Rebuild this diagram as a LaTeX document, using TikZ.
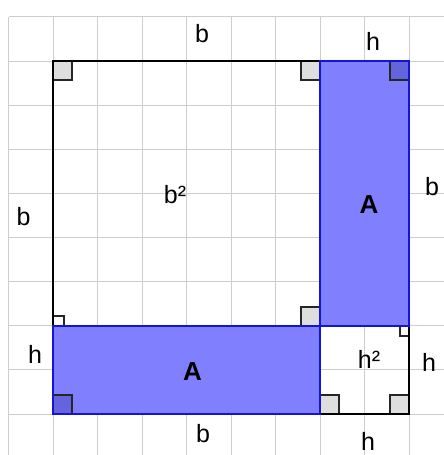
\documentclass[tikz,border=0pt]{standalone}
\usepackage{fontspec}
\setmainfont{Liberation Sans}
\definecolor{gridc}{RGB}{205,205,205}
\definecolor{fillb}{RGB}{128,128,255}
\definecolor{edgeb}{RGB}{20,20,215}
\definecolor{markg}{RGB}{222,222,222}
\definecolor{markb}{RGB}{100,100,220}
\begin{document}
\begin{tikzpicture}[x=1pt,y=-1pt,
  lbl/.style={font=\fontsize{25}{25}\selectfont, inner sep=0pt},
  albl/.style={font=\fontsize{26}{26}\selectfont\bfseries, inner sep=0pt},
  gridline/.style={draw=gridc, line width=0.9pt},
  blackedge/.style={draw=black, line width=2pt},
  blueedge/.style={draw=edgeb, line width=2pt},
  markline/.style={draw=black!85, line width=1.3pt}]
\useasboundingbox (0,0) rectangle (444,455);
\fill[white] (0,0) rectangle (444,455);
% grid
\foreach \i in {0,...,9} \draw[gridline] ({8.5+44.5*\i},16.9) -- ({8.5+44.5*\i},455);
\foreach \j in {0,...,9} \draw[gridline] (8.5,{16.9+44.125*\j}) -- (444,{16.9+44.125*\j});
% corners
\coordinate (TL) at (53,61);
\coordinate (TR) at (320,61);
\coordinate (TRR) at (409,61);
\coordinate (BL) at (53,326);
\coordinate (BR) at (320,326);
\coordinate (BRR) at (409,326);
\coordinate (BBL) at (53,414);
\coordinate (BBR) at (320,414);
\coordinate (BBRR) at (409,414);
% blue fills
\fill[fillb] (TR) rectangle (BRR);
\fill[fillb] (BL) rectangle (BBR);
% right-angle markers
\fill[markg] (53,61) rectangle (72,80);
\draw[markline] (72,61) -- (72,80) -- (53,80);
\fill[markg] (301,61) rectangle (320,80);
\draw[markline] (301,61) -- (301,80) -- (320,80);
\fill[markb] (390,61) rectangle (409,80);
\draw[markline] (390,61) -- (390,80) -- (409,80);
\fill[white] (53,316) rectangle (64,326);
\draw[markline] (53,316) -- (64,316) -- (64,326);
\fill[markg] (301,307) rectangle (320,326);
\draw[markline] (301,326) -- (301,307) -- (320,307);
\fill[markb] (53,395) rectangle (72,414);
\draw[markline] (53,395) -- (72,395) -- (72,414);
\fill[markg] (320,395) rectangle (339,414);
\draw[markline] (320,395) -- (339,395) -- (339,414);
\fill[markg] (390,395) rectangle (409,414);
\draw[markline] (409,395) -- (390,395) -- (390,414);
\fill[white] (400,327) rectangle (409,336);
\draw[markline] (400,327) -- (400,336) -- (409,336);
% edges
\draw[blackedge] (BL) -- (TL) -- (TR);
\draw[blackedge] (BRR) -- (BBRR) -- (BBR);
\draw[blueedge] (TR) rectangle (BRR);
\draw[blueedge] (BL) rectangle (BBR);
% labels
\node[lbl] (bt) at (202,34) {b};
\node[lbl] (ht) at (373,41) {h};
\node[lbl] (bl) at (23.5,217) {b};
\node[lbl] (bsq) at (175,195) {b²};
\node[albl] (ar) at (369,205) {A};
\node[lbl] (br) at (432,187) {b};
\node[lbl] (hl) at (35,354) {h};
\node[albl] (ab) at (192.5,372) {A};
\node[lbl] (hsq) at (369,359) {h²};
\node[lbl] (hr) at (429,362) {h};
\node[lbl] (bb) at (203,434) {b};
\node[lbl] (hb) at (368,441) {h};
\end{tikzpicture}
\end{document}
